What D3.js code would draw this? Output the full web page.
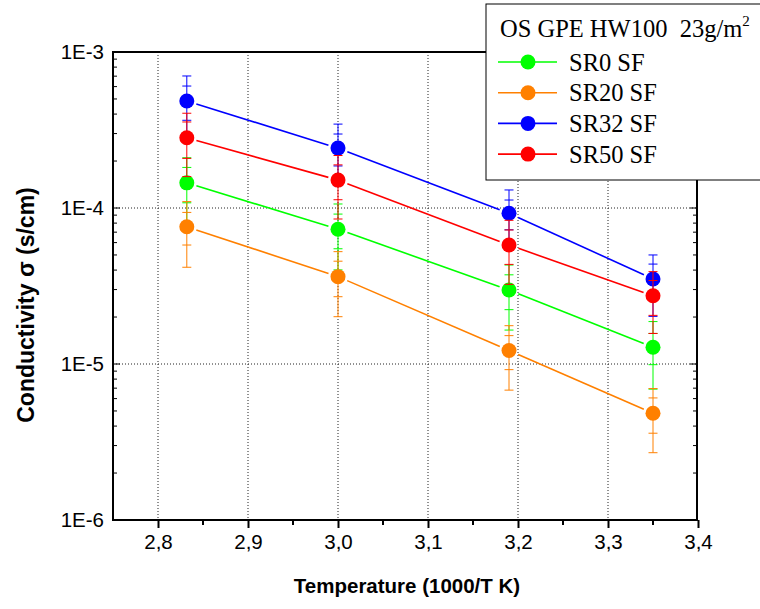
<!DOCTYPE html>
<html>
<head>
<meta charset="utf-8">
<script src="https://cdn.jsdelivr.net/npm/d3@7"></script>
<style>
  body { margin: 0; background: #fff; }
  svg { display: block; }
</style>
</head>
<body>
<div id="chart"></div>
<script>
// data
const xValues = [2.832, 3.0, 3.19, 3.35]
const seriesNames = ['SR0 SF', 'SR20 SF', 'SR32 SF', 'SR50 SF']
const seriesColors = ['#00ff00', '#ff8000', '#0000ff', '#ff0000']
const sr0 = [1.45e-4, 7.31e-5, 2.98e-5, 1.28e-5]
const sr20 = [7.58e-5, 3.63e-5, 1.22e-5, 4.83e-6]
const sr32 = [4.85e-4, 2.42e-4, 9.25e-5, 3.51e-5]
const sr50 = [2.82e-4, 1.51e-4, 5.79e-5, 2.74e-5]
// two error bars per point (outer and inner), +/- in linear units
const sr0ErrOuter = [6.5e-5, 3.3e-5, 1.33e-5, 5.9e-6]
const sr0ErrInner = [3.7e-5, 1.83e-5, 7.5e-6, 2.9e-6]
const sr20ErrOuter = [3.41e-5, 1.62e-5, 5.4e-6, 2.13e-6]
const sr20ErrInner = [1.79e-5, 9.3e-6, 3.0e-6, 1.23e-6]
const sr32ErrOuter = [2.17e-4, 1.03e-4, 3.8e-5, 1.49e-5]
const sr32ErrInner = [1.2e-4, 5.6e-5, 2.0e-5, 8.6e-6]
const sr50ErrOuter = [1.23e-4, 6.6e-5, 2.55e-5, 1.17e-5]
const sr50ErrInner = [7.4e-5, 3.8e-5, 1.44e-5, 6.9e-6]
const xTicks = [2.8, 2.9, 3.0, 3.1, 3.2, 3.3, 3.4]
const minorX = [2.85, 2.95, 3.05, 3.15, 3.25, 3.35]
const yTicks = [1e-6, 1e-5, 1e-4, 1e-3]
const yTickLabels = ['1E-6', '1E-5', '1E-4', '1E-3']

const series = [
  { name: seriesNames[0], color: seriesColors[0], values: sr0, outer: sr0ErrOuter, inner: sr0ErrInner },
  { name: seriesNames[1], color: seriesColors[1], values: sr20, outer: sr20ErrOuter, inner: sr20ErrInner },
  { name: seriesNames[2], color: seriesColors[2], values: sr32, outer: sr32ErrOuter, inner: sr32ErrInner },
  { name: seriesNames[3], color: seriesColors[3], values: sr50, outer: sr50ErrOuter, inner: sr50ErrInner }
]

const width = 760
const height = 609
const padL = 113, padR = 697, padT = 52, padB = 520
const legX = 486, legY = 4, legH = 176

const svg = d3.select('#chart').append('svg').attr('width', width).attr('height', height)

const x = d3.scaleLinear().domain([2.75, 3.4]).range([padL, padR + 1])
const y = d3.scaleLog().domain([1e-6, 1e-3]).range([padB, padT])

// grid
const grid = svg.append('g').attr('stroke', '#222').attr('stroke-width', 1).attr('stroke-dasharray', '1,2')
xTicks.slice(0, -1).forEach(t => {
  grid.append('line').attr('x1', x(t)).attr('x2', x(t)).attr('y1', padT).attr('y2', padB)
})
yTicks.slice(1, -1).forEach(t => {
  grid.append('line').attr('x1', padL).attr('x2', padR).attr('y1', y(t)).attr('y2', y(t))
})

// minor log ticks, inside, on left and right axes
const minor = []
for (let e = -6; e < -3; e++) {
  for (let m = 2; m <= 9; m++) minor.push(m * Math.pow(10, e))
}
const ticksG = svg.append('g').attr('stroke', '#000').attr('stroke-width', 1)
minor.forEach(v => {
  ticksG.append('line').attr('x1', padL).attr('x2', padL + 4).attr('y1', y(v)).attr('y2', y(v))
  if (y(v) > legY + legH) {
    ticksG.append('line').attr('x1', padR).attr('x2', padR - 4).attr('y1', y(v)).attr('y2', y(v))
  }
})
yTicks.forEach(v => {
  ticksG.append('line').attr('x1', padL).attr('x2', padL + 7).attr('y1', y(v)).attr('y2', y(v))
  if (y(v) > legY + legH) {
    ticksG.append('line').attr('x1', padR).attr('x2', padR - 7).attr('y1', y(v)).attr('y2', y(v))
  }
})

// bottom axis
const xAxis = d3.axisBottom(x).tickValues(xTicks).tickSize(8).tickPadding(6)
  .tickFormat(d => d3.format('.1f')(d).replace('.', ','))
const gx = svg.append('g').attr('transform', 'translate(0,' + padB + ')').call(xAxis)
gx.select('.domain').remove()
gx.selectAll('.tick line').attr('stroke-width', 2)
gx.selectAll('.tick text').attr('font-family', 'Liberation Sans, Arial, sans-serif').attr('font-size', 20.5).attr('fill', '#000')
minorX.forEach(t => {
  ticksG.append('line').attr('x1', x(t)).attr('x2', x(t)).attr('y1', padB).attr('y2', padB + 5).attr('stroke-width', 2)
})

// left axis labels
const yAxis = d3.axisLeft(y).tickValues(yTicks).tickSize(0).tickPadding(9)
  .tickFormat((d, i) => yTickLabels[i])
const gy = svg.append('g').attr('transform', 'translate(' + padL + ',0)').call(yAxis)
gy.select('.domain').remove()
gy.selectAll('.tick text').attr('font-family', 'Liberation Sans, Arial, sans-serif').attr('font-size', 20.5).attr('fill', '#000')

// frame
const frame = svg.append('g').attr('stroke', '#000').attr('stroke-width', 2).attr('fill', 'none')
frame.append('line').attr('x1', padL).attr('x2', padL).attr('y1', padT - 1).attr('y2', padB + 1)
frame.append('line').attr('x1', padL - 1).attr('x2', padR + 1).attr('y1', padB).attr('y2', padB)
frame.append('line').attr('x1', padL).attr('x2', legX).attr('y1', padT).attr('y2', padT)
frame.append('line').attr('x1', padR).attr('x2', padR).attr('y1', legY + legH).attr('y2', padB + 1)

// series
const r = 7.5
series.forEach(s => {
  const g = svg.append('g')
  const pts = s.values.map((v, i) => [x(xValues[i]), y(v)])
  // connecting lines with gap around markers
  for (let i = 0; i < pts.length - 1; i++) {
    const [x1, y1] = pts[i], [x2, y2] = pts[i + 1]
    const len = Math.hypot(x2 - x1, y2 - y1)
    const ux = (x2 - x1) / len, uy = (y2 - y1) / len
    const gap = r + 2.5
    g.append('line')
      .attr('x1', x1 + ux * gap).attr('y1', y1 + uy * gap)
      .attr('x2', x2 - ux * gap).attr('y2', y2 - uy * gap)
      .attr('stroke', s.color).attr('stroke-width', 1.6)
  }
  // error bars
  s.values.forEach((v, i) => {
    const cx = x(xValues[i])
    const hi = y(v + s.outer[i]), lo = y(v - s.outer[i])
    const hi2 = y(v + s.inner[i]), lo2 = y(v - s.inner[i])
    g.append('line').attr('x1', cx).attr('x2', cx).attr('y1', hi).attr('y2', lo)
      .attr('stroke', s.color).attr('stroke-width', 1)
    ;[hi, lo, hi2, lo2].forEach(cy => {
      g.append('line').attr('x1', cx - 4.5).attr('x2', cx + 4.5).attr('y1', cy).attr('y2', cy)
        .attr('stroke', s.color).attr('stroke-width', 1)
    })
  })
  g.selectAll('circle').data(pts).join('circle')
    .attr('cx', d => d[0]).attr('cy', d => d[1]).attr('r', r)
    .attr('fill', s.color)
})

// axis titles
svg.append('text').text('Temperature (1000/T K)')
  .attr('x', (padL + padR) / 2 + 2).attr('y', 593)
  .attr('text-anchor', 'middle')
  .attr('font-family', 'Liberation Sans, Arial, sans-serif').attr('font-weight', 'bold').attr('font-size', 20.5)
svg.append('text').text('Conductivity σ (s/cm)')
  .attr('transform', 'translate(34,' + 305 + ') rotate(-90)')
  .attr('text-anchor', 'middle')
  .attr('font-family', 'Liberation Sans, Arial, sans-serif').attr('font-weight', 'bold').attr('font-size', 23)

// legend
const leg = svg.append('g')
leg.append('rect').attr('x', legX).attr('y', legY).attr('width', 300).attr('height', legH)
  .attr('fill', '#fff').attr('stroke', '#000').attr('stroke-width', 1)
const title = leg.append('text').attr('x', 500).attr('y', 37)
  .attr('font-family', 'Liberation Serif, Times New Roman, serif').attr('font-size', 24.5)
title.append('tspan').text('OS GPE HW100\u00a0\u00a023g/m')
title.append('tspan').text('2').attr('font-size', 15).attr('dy', -11)
series.forEach((s, i) => {
  const cy = 62 + i * 30.7
  leg.append('line').attr('x1', 498).attr('x2', 557).attr('y1', cy).attr('y2', cy)
    .attr('stroke', s.color).attr('stroke-width', 1.6)
  leg.append('circle').attr('cx', 528).attr('cy', cy).attr('r', 7.5).attr('fill', s.color)
  leg.append('text').text(s.name).attr('x', 569).attr('y', cy + 8.5)
    .attr('font-family', 'Liberation Serif, Times New Roman, serif').attr('font-size', 24.5)
})
</script>
</body>
</html>
